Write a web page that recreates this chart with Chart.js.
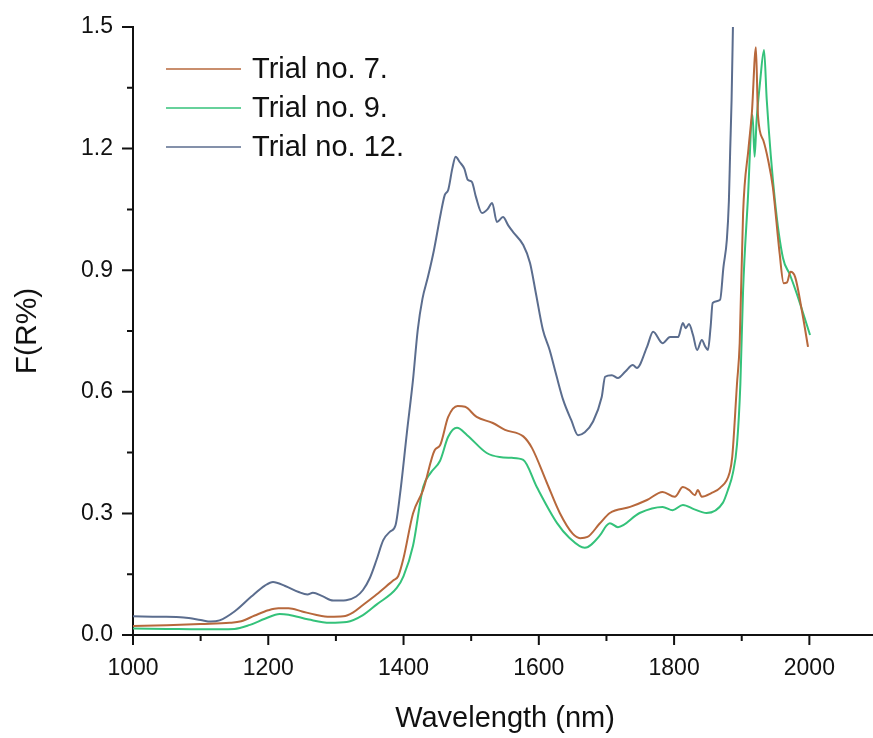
<!DOCTYPE html>
<html>
<head>
<meta charset="utf-8">
<script src="https://cdn.jsdelivr.net/npm/chart.js@4.4.1/dist/chart.umd.min.js"></script>
<style>
  html, body { margin: 0; padding: 0; background: #fff; overflow: hidden; }
  #wrap { position: relative; width: 880px; height: 738px; }
  #c { display: block; width: 880px; height: 738px; }
</style>
</head>
<body>
<div id="wrap"><canvas id="c" width="880" height="738"></canvas></div>
<script>
// ---- Data ----
const seriesLabels = ["Trial no. 7.", "Trial no. 9.", "Trial no. 12."];

const trial7X = [1000,1050,1100,1143,1160,1180,1200,1215,1230,1250,1270,1291,1311,1325,1340,1360,1380,1385,1392,1400,1414,1429,1446,1454,1466,1480,1491,1508,1532,1550,1577,1590,1612,1631,1650,1661,1672,1690,1705,1735,1760,1783,1801,1813,1822,1831,1835,1841,1855,1868,1882,1886,1893,1897,1902,1910,1915,1921,1924,1932,1939,1946,1956,1962,1967,1972,1979,1990,1998];
const trial7Y = [0.022,0.024,0.027,0.030,0.034,0.048,0.061,0.066,0.066,0.058,0.050,0.045,0.046,0.055,0.074,0.100,0.128,0.135,0.145,0.190,0.300,0.358,0.456,0.468,0.538,0.565,0.563,0.538,0.523,0.506,0.490,0.461,0.375,0.301,0.250,0.239,0.242,0.275,0.301,0.316,0.333,0.353,0.341,0.365,0.358,0.345,0.358,0.341,0.350,0.363,0.400,0.440,0.620,0.720,1.040,1.200,1.288,1.450,1.283,1.220,1.172,1.105,0.942,0.868,0.870,0.896,0.883,0.790,0.711];

const trial9X = [1000,1050,1100,1150,1173,1195,1217,1230,1260,1291,1316,1340,1360,1390,1400,1414,1429,1440,1454,1466,1479,1494,1523,1542,1560,1577,1597,1627,1645,1668,1690,1700,1705,1717,1749,1783,1798,1813,1830,1848,1872,1880,1887,1893,1898,1902,1909,1916,1919,1922,1927,1933,1937,1949,1961,1971,1981,2001];
const trial9Y = [0.016,0.015,0.014,0.015,0.025,0.040,0.052,0.050,0.038,0.030,0.032,0.049,0.075,0.116,0.145,0.220,0.365,0.400,0.430,0.489,0.511,0.493,0.449,0.439,0.437,0.432,0.365,0.276,0.240,0.215,0.245,0.270,0.276,0.266,0.301,0.316,0.308,0.321,0.310,0.301,0.326,0.360,0.400,0.470,0.620,0.850,1.073,1.283,1.180,1.270,1.362,1.443,1.320,1.073,0.930,0.890,0.844,0.740];

const trial12X = [1000,1040,1075,1100,1115,1128,1150,1175,1195,1207,1225,1245,1258,1266,1280,1296,1315,1330,1340,1350,1360,1370,1380,1388,1395,1405,1414,1421,1428,1436,1445,1455,1461,1466,1472,1477,1483,1490,1495,1501,1507,1516,1524,1531,1538,1547,1555,1562,1577,1587,1596,1606,1616,1626,1636,1648,1658,1668,1680,1693,1698,1708,1717,1728,1739,1745,1760,1769,1783,1794,1806,1813,1817,1822,1828,1834,1841,1846,1850,1854,1857,1868,1873,1878,1881,1883,1885,1887];
const trial12Y = [0.046,0.045,0.043,0.037,0.033,0.036,0.058,0.095,0.122,0.131,0.121,0.106,0.100,0.104,0.096,0.085,0.086,0.095,0.111,0.140,0.185,0.234,0.255,0.270,0.350,0.500,0.630,0.753,0.830,0.883,0.950,1.040,1.086,1.098,1.150,1.180,1.167,1.150,1.123,1.118,1.081,1.041,1.050,1.066,1.019,1.031,1.010,0.994,0.962,0.918,0.840,0.753,0.703,0.640,0.580,0.530,0.493,0.500,0.526,0.587,0.637,0.641,0.634,0.650,0.666,0.659,0.711,0.748,0.720,0.735,0.735,0.770,0.757,0.767,0.740,0.703,0.728,0.712,0.703,0.760,0.819,0.827,0.908,0.975,1.070,1.200,1.320,1.500];

const xTickRange = { min: 1000, max: 2100, step: 100 };
const yTickRange = { min: 0, max: 1.5, step: 0.15 };

const colors = ["#b7683c", "#34c27a", "#5b6d8e"];
const FONT = '"Liberation Sans", Arial, Helvetica, sans-serif';

function pts(xs, ys) { return xs.map((x, i) => ({ x: x, y: ys[i] })); }

const isMajorX = v => Math.round(v / xTickRange.step) % 2 === 0;
const isMajorY = v => Math.round(v / yTickRange.step) % 2 === 0;

// Inset legend drawn from dataset labels/colors
const insetLegend = {
  id: 'insetLegend',
  afterDraw(chart) {
    const ctx = chart.ctx;
    ctx.save();
    ctx.font = '29px ' + FONT;
    ctx.textBaseline = 'alphabetic';
    ctx.textAlign = 'left';
    chart.data.datasets.forEach((ds, i) => {
      const yLine = 69 + i * 39;
      ctx.strokeStyle = ds.borderColor;
      ctx.lineWidth = 1.6;
      ctx.beginPath();
      ctx.moveTo(166, yLine);
      ctx.lineTo(241, yLine);
      ctx.stroke();
      ctx.fillStyle = '#111';
      ctx.fillText(ds.label, 252, yLine + 9);
    });
    ctx.restore();
  }
};

// Outward major/minor tick marks
const tickMarks = {
  id: 'tickMarks',
  afterDraw(chart) {
    const ctx = chart.ctx;
    const xs = chart.scales.x, ys = chart.scales.y;
    ctx.save();
    ctx.strokeStyle = '#111';
    ctx.lineWidth = 2;
    ctx.beginPath();
    xs.ticks.forEach(t => {
      const px = xs.getPixelForValue(t.value);
      const len = isMajorX(t.value) ? 10 : 6;
      ctx.moveTo(px, xs.top);
      ctx.lineTo(px, xs.top + len);
    });
    ys.ticks.forEach(t => {
      const py = ys.getPixelForValue(t.value);
      const len = isMajorY(t.value) ? 11 : 6;
      ctx.moveTo(ys.right, py);
      ctx.lineTo(ys.right - len, py);
    });
    ctx.stroke();
    ctx.restore();
  }
};

const datasetStyle = (c) => ({
  borderColor: c,
  backgroundColor: c,
  borderWidth: 2,
  pointRadius: 0,
  fill: false,
  cubicInterpolationMode: 'monotone'
});

new Chart(document.getElementById('c'), {
  type: 'line',
  data: {
    datasets: [
      Object.assign({ label: seriesLabels[0], data: pts(trial7X, trial7Y) }, datasetStyle(colors[0])),
      Object.assign({ label: seriesLabels[1], data: pts(trial9X, trial9Y) }, datasetStyle(colors[1])),
      Object.assign({ label: seriesLabels[2], data: pts(trial12X, trial12Y) }, datasetStyle(colors[2]))
    ]
  },
  options: {
    responsive: false,
    animation: false,
    layout: { padding: { top: 27, right: 3, left: 0, bottom: 0 } },
    plugins: { legend: { display: false }, tooltip: { enabled: false } },
    scales: {
      x: {
        type: 'linear',
        min: xTickRange.min,
        max: xTickRange.max,
        afterFit: s => { s.height = 103; s.paddingRight = 0; s.paddingLeft = 0; },
        ticks: {
          stepSize: xTickRange.step,
          autoSkip: false,
          maxRotation: 0,
          padding: 10,
          color: '#111',
          font: { family: FONT, size: 23 },
          callback: v => isMajorX(v) ? String(v) : ''
        },
        grid: { drawOnChartArea: false, drawTicks: true, tickLength: 10, tickColor: 'rgba(0,0,0,0)' },
        border: { display: true, color: '#111', width: 2 },
        title: {
          display: true,
          text: 'Wavelength (nm)',
          color: '#111',
          font: { family: FONT, size: 29 },
          padding: { top: 0, bottom: 2 }
        }
      },
      y: {
        type: 'linear',
        min: yTickRange.min,
        max: yTickRange.max,
        afterFit: s => { s.width = 133; },
        ticks: {
          stepSize: yTickRange.step,
          autoSkip: false,
          padding: 9,
          color: '#111',
          font: { family: FONT, size: 23 },
          callback: v => isMajorY(v) ? Number(v).toFixed(1) : ''
        },
        grid: { drawOnChartArea: false, drawTicks: true, tickLength: 11, tickColor: 'rgba(0,0,0,0)' },
        border: { display: true, color: '#111', width: 2 },
        title: {
          display: true,
          text: 'F(R%)',
          color: '#111',
          font: { family: FONT, size: 30 },
          padding: { top: 10, bottom: 0 }
        }
      }
    }
  },
  plugins: [insetLegend, tickMarks]
});
</script>
</body>
</html>
